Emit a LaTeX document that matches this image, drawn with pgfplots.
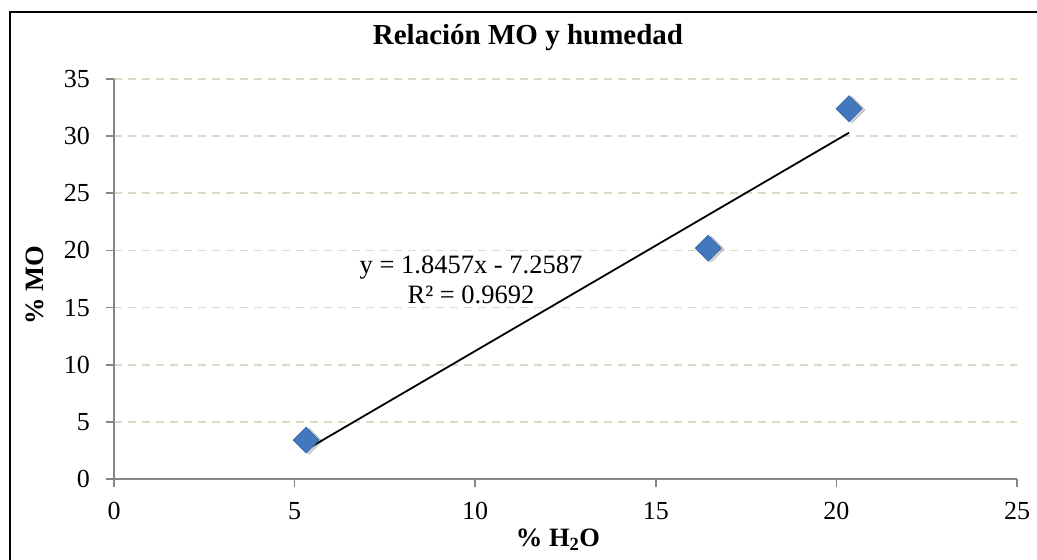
\documentclass[border=0pt]{standalone}
\usepackage{pgfplots}
\pgfplotsset{compat=1.18}
\usepackage{fontspec}
\setmainfont{Liberation Serif}
\definecolor{gridc}{RGB}{221,217,195}
\definecolor{axc}{RGB}{134,134,134}
\definecolor{mkblue}{RGB}{68,120,190}
\definecolor{mkedge}{RGB}{52,98,163}
\begin{document}
\begin{tikzpicture}[x=1pt,y=1pt]
\useasboundingbox (0,0) rectangle (1037,560);
\begin{axis}[
  at={(114pt,81pt)}, anchor=south west,
  scale only axis, width=903pt, height=400pt,
  xmin=0, xmax=25, ymin=0, ymax=35,
  xtick={0,5,...,25}, ytick={0,5,...,35},
  axis x line=bottom, axis y line=left,
  axis line style={-, draw=axc, line width=1.6pt},
  tick style={draw=axc, line width=1.6pt},
  tick align=outside, major tick length=8pt,
  ymajorgrids, grid style={gridc, line width=1.6pt, dash pattern=on 8pt off 6pt},
  every tick label/.style={font=\fontsize{26}{26}\selectfont},
  /pgf/number format/assume math mode=true,
  xticklabel style={yshift=-12pt},
  yticklabel style={xshift=-12.5pt},
  clip=false,
]
% shadow
\addplot[only marks, mark=square*, mark size=9.2pt,
  mark options={rotate=45, fill=black, draw=none, opacity=0.18, xshift=1.5pt, yshift=-3pt}]
  coordinates {(5.32,3.4) (16.45,20.2) (20.35,32.4)};
\addplot[only marks, mark=square*, mark size=9.2pt,
  mark options={rotate=45, fill=mkblue, draw=mkedge, line width=0.6pt}]
  coordinates {(5.32,3.4) (16.45,20.2) (20.35,32.4)};
\addplot[black, line width=1.8pt] coordinates {(5.32,2.56) (20.35,30.30)};
\end{axis}
\draw[black, line width=2pt] (10,-10) -- (10,548) -- (1050,548);
\node[font=\fontsize{29}{29}\selectfont\bfseries] at (528,522) {Relación MO y humedad};
\node[font=\fontsize{26.5}{26.5}\selectfont\bfseries] at (558,20) {\% H\textsubscript{2}O};
\node[font=\fontsize{26.5}{26.5}\selectfont\bfseries, rotate=90] at (35,275) {\% MO};
\node[font=\fontsize{26.5}{30}\selectfont, align=center, inner sep=0pt] at (471,280)
  {y = 1.8457x - 7.2587\\R² = 0.9692};
\end{tikzpicture}
\end{document}
